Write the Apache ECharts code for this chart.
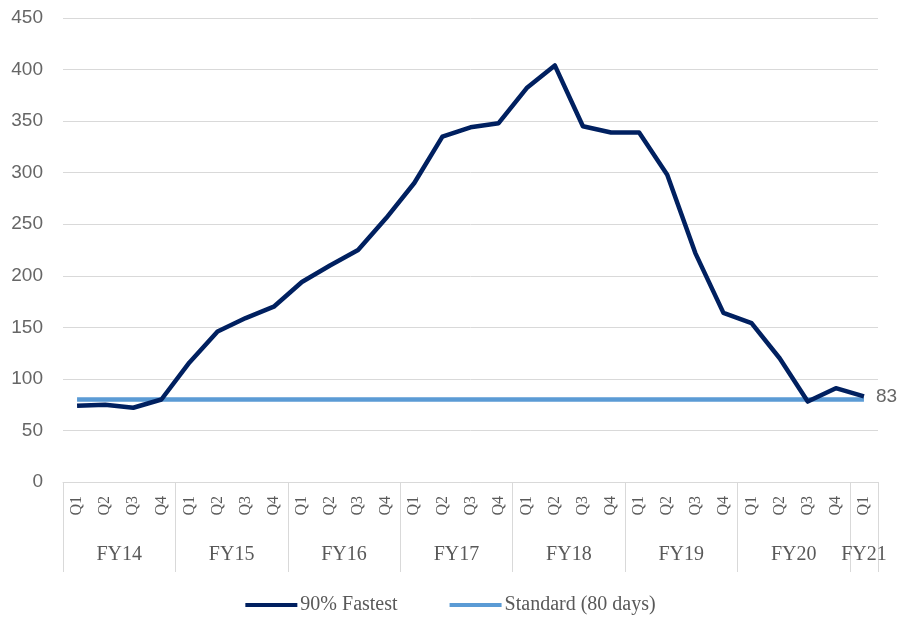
<!DOCTYPE html>
<html>
<head>
    <meta charset="utf-8">
    <title>ECharts</title>
    <script src="https://cdn.jsdelivr.net/npm/echarts@6/dist/echarts.min.js"></script>
</head>
<body style="margin:0">
    <div id="main" style="width: 901px;height:619px;"></div>
    <script>
        // quarters, FY14 Q1 .. FY21 Q1
        var quarters = ['Q1','Q2','Q3','Q4','Q1','Q2','Q3','Q4','Q1','Q2','Q3','Q4','Q1','Q2','Q3','Q4',
                        'Q1','Q2','Q3','Q4','Q1','Q2','Q3','Q4','Q1','Q2','Q3','Q4','Q1'];
        var years = ['FY14','FY15','FY16','FY17','FY18','FY19','FY20','FY21'];
        var yearCenters = [2, 6, 10, 14, 18, 22, 26, 28.5];
        var yearBounds = [0, 4, 8, 12, 16, 20, 24, 28, 29];

        var fastest = [74, 75, 72, 80, 116, 146, 159, 170, 194, 210, 225, 256, 290, 335, 344, 348,
                       382, 404, 345, 339, 339, 298, 222, 164, 154, 120, 78, 91, 83];
        var standard = quarters.map(function () { return 80; });

        var serif = 'Liberation Serif';
        var sans = 'Liberation Sans';
        var grey = '#595959';

        var chartDom = document.getElementById('main');
        var myChart = echarts.init(chartDom);
        var option = {
            animation: false,
            textStyle: { fontFamily: serif },
            grid: { left: 63, right: 23, top: 18, bottom: 137 },
            legend: {
                top: 590,
                left: 'center',
                itemGap: 52,
                itemWidth: 52,
                itemHeight: 4,
                icon: 'rect',
                textStyle: { fontFamily: serif, fontSize: 20, color: grey, padding: [0, 0, 0, -2] },
                data: ['90% Fastest', 'Standard (80 days)']
            },
            xAxis: [
                {
                    type: 'category',
                    data: quarters,
                    boundaryGap: true,
                    axisLine: { show: true, lineStyle: { color: '#d9d9d9' } },
                    axisTick: { show: false },
                    axisLabel: { rotate: 90, margin: 14, fontFamily: serif, fontSize: 16, color: grey }
                },
                {
                    type: 'value',
                    position: 'bottom',
                    min: 0,
                    max: 29,
                    splitLine: { show: false },
                    axisLine: { show: false },
                    axisTick: {
                        show: true,
                        length: 90,
                        customValues: yearBounds,
                        lineStyle: { color: '#d9d9d9' }
                    },
                    axisLabel: {
                        margin: 63,
                        customValues: yearCenters,
                        fontFamily: serif,
                        fontSize: 20,
                        color: grey,
                        formatter: function (v) {
                            return years[yearCenters.indexOf(v)];
                        }
                    }
                }
            ],
            yAxis: {
                type: 'value',
                min: 0,
                max: 450,
                interval: 50,
                axisLine: { show: false },
                axisTick: { show: false },
                splitLine: { lineStyle: { color: '#d9d9d9' } },
                axisLabel: { margin: 20, fontFamily: sans, fontSize: 19, color: '#666666' }
            },
            series: [
                {
                    name: 'Standard (80 days)',
                    type: 'line',
                    data: standard,
                    symbol: 'none',
                    itemStyle: { color: '#5b9bd5' },
                    lineStyle: { color: '#5b9bd5', width: 4.5 }
                },
                {
                    name: '90% Fastest',
                    type: 'line',
                    data: fastest,
                    symbol: 'none',
                    z: 3,
                    itemStyle: { color: '#002060' },
                    lineStyle: { color: '#002060', width: 4.5, join: 'round' },
                    endLabel: {
                        show: true,
                        distance: 12,
                        fontFamily: sans,
                        fontSize: 19,
                        color: '#666666',
                        formatter: '{c}'
                    }
                }
            ]
        };

        option && myChart.setOption(option);
    </script>
</body>
</html>
